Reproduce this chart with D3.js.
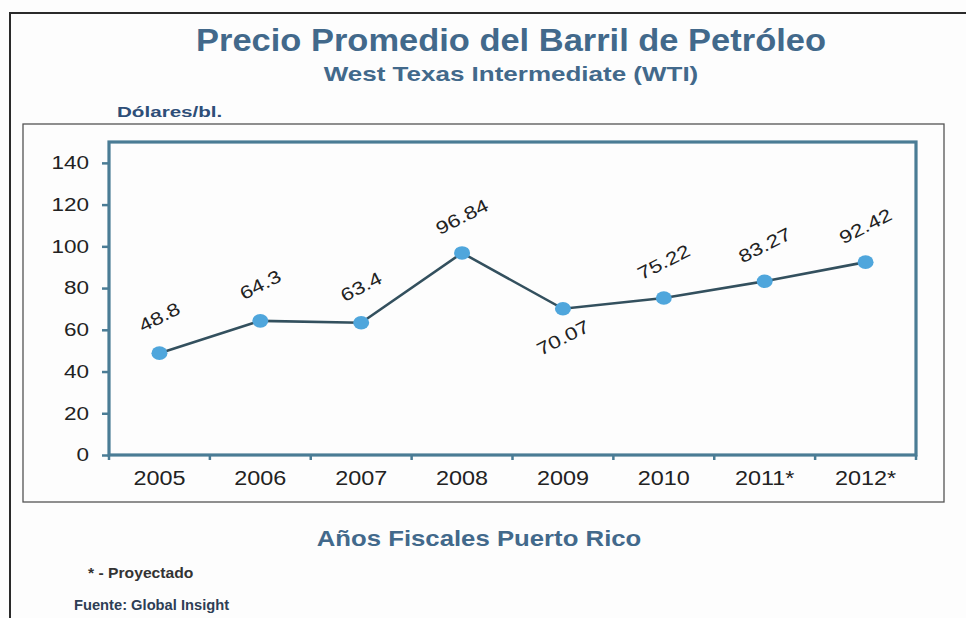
<!DOCTYPE html>
<html><head><meta charset="utf-8">
<script src="https://cdn.jsdelivr.net/npm/d3@7"></script>
<style>body{margin:0;background:#fff;}svg{display:block;font-family:"Liberation Sans",Arial,sans-serif;}</style>
</head><body>
<svg id="c" width="966" height="618"></svg>
<script>
const categories = ["2005","2006","2007","2008","2009","2010","2011*","2012*"];
const values = [48.8, 64.3, 63.4, 96.84, 70.07, 75.22, 83.27, 92.42];
const labels = ["48.8","64.3","63.4","96.84","70.07","75.22","83.27","92.42"];
const labelBelow = [false,false,false,false,true,false,false,false];
const yTicks = [0,20,40,60,80,100,120,140];

const SX = 1.22; // horizontal stretch of the scanned image
const svg = d3.select("#c");
svg.append("rect").attr("width",966).attr("height",618).attr("fill","#fdfdfd");
svg.append("path").attr("d","M10,630 L10,13 L975,13").attr("fill","none").attr("stroke","#2a2a2a").attr("stroke-width",2);
svg.append("rect").attr("x",23).attr("y",124).attr("width",921).attr("height",378)
  .attr("fill","none").attr("stroke","#555").attr("stroke-width",1.3);

function txt(x, y, s, opt){
  const t = svg.append("text").attr("transform",`translate(${x},${y}) scale(${opt.sx||SX},1)`)
    .attr("text-anchor",opt.anchor||"start").attr("font-size",opt.size)
    .attr("font-weight",opt.weight||"normal").attr("fill",opt.fill||"#222").text(s);
  return t;
}

const plot = {l:109, r:916, t:142, b:455};
const x = d3.scaleBand().domain(categories).range([plot.l, plot.r]).padding(0);
const y = d3.scaleLinear().domain([0,150]).range([plot.b, plot.t]);
const frame = "#4a7c95";
const titleBlue = "#42698b";

txt(511, 51, "Precio Promedio del Barril de Petróleo", {anchor:"middle", size:30.5, weight:"bold", fill:titleBlue, sx:1.13});
txt(511, 81, "West Texas Intermediate (WTI)", {anchor:"middle", size:20, weight:"bold", fill:titleBlue, sx:1.3});
txt(117, 117, "Dólares/bl.", {size:15.5, weight:"bold", fill:"#2e4e78", sx:1.33});

svg.append("rect").attr("x",plot.l).attr("y",plot.t).attr("width",plot.r-plot.l).attr("height",plot.b-plot.t)
  .attr("fill","none").attr("stroke",frame).attr("stroke-width",3.2);

// y axis
const yAx = svg.append("g").attr("transform",`translate(${plot.l},0)`)
  .call(d3.axisLeft(y).tickValues(yTicks).tickSize(7).tickPadding(20));
yAx.select(".domain").remove();
yAx.selectAll("line").attr("stroke",frame).attr("stroke-width",2.5);
yAx.selectAll(".tick text").each(function(){
  const t = d3.select(this);
  t.attr("transform",`translate(-20,0) scale(1.25,1)`).attr("x",0)
   .attr("font-size",18).attr("fill","#222").attr("font-family","Liberation Sans, Arial, sans-serif");
});

// x axis
const xAx = svg.append("g").attr("transform",`translate(0,${plot.b})`)
  .call(d3.axisBottom(x).tickSize(0).tickPadding(0));
xAx.select(".domain").remove();
xAx.selectAll(".tick text").attr("y",0).attr("dy",0)
  .attr("transform","translate(0,30) scale(1.2,1)")
  .attr("font-size",19.5).attr("fill","#222").attr("font-family","Liberation Sans, Arial, sans-serif");
const bounds = categories.map(c=>x(c)).concat([plot.r]);
svg.append("g").selectAll("line").data(bounds).join("line")
  .attr("x1",d=>d).attr("x2",d=>d).attr("y1",plot.b).attr("y2",plot.b+5)
  .attr("stroke",frame).attr("stroke-width",2.5);

// line and markers
const cx = c => x(c) + x.bandwidth()/2;
const line = d3.line().x((d,i)=>cx(categories[i])).y(d=>y(d));
svg.append("path").datum(values).attr("d",line).attr("fill","none").attr("stroke","#33505e").attr("stroke-width",2.6);
svg.append("g").selectAll("ellipse").data(values).join("ellipse")
  .attr("cx",(d,i)=>cx(categories[i])).attr("cy",d=>y(d)).attr("rx",8).attr("ry",6.8).attr("fill","#4fa6dc");

// data labels
svg.append("g").selectAll("text").data(values).join("text")
  .attr("transform",(d,i)=>{
    const px = cx(categories[i]);
    const py = y(d) + (labelBelow[i] ? 29 : -36);
    return `translate(${px},${py}) rotate(-27) scale(1.25,1)`;
  })
  .attr("text-anchor","middle").attr("dominant-baseline","central")
  .attr("font-size",18).attr("fill","#222").text((d,i)=>labels[i]);

// bottom texts
txt(479, 546, "Años Fiscales Puerto Rico", {anchor:"middle", size:22, weight:"bold", fill:titleBlue, sx:1.17});
txt(88, 578, "* - Proyectado", {size:14, weight:"bold", fill:"#333", sx:1.12});
txt(74, 610, "Fuente: Global Insight", {size:14, weight:"bold", fill:"#2e3e55", sx:1.05});
</script>
</body></html>
